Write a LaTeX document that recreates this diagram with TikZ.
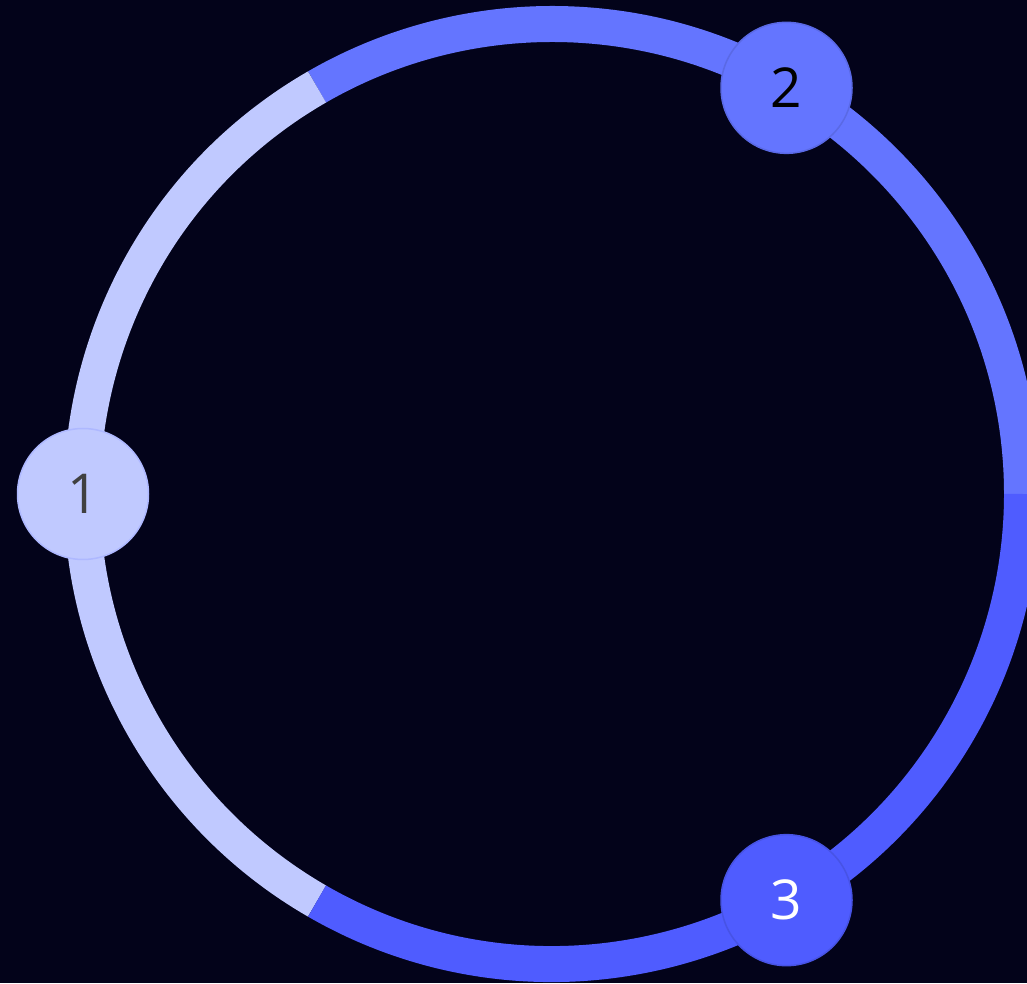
\documentclass[tikz,border=0pt]{standalone}
\usepackage{fontspec}
\setmainfont{Open Sans}
\usetikzlibrary{positioning}
\definecolor{bgnavy}{HTML}{03031A}
\definecolor{ringlight}{HTML}{C0C9FF}
\definecolor{ringmid}{HTML}{6475FF}
\definecolor{ringdark}{HTML}{4F5CFF}

\begin{document}
\begin{tikzpicture}[
  x=1pt, y=1pt,
  seg/.style={line width=36pt},
  stepdot/.style={circle, minimum size=131pt, inner sep=0pt, line width=1.5pt,
    font=\fontsize{55}{55}\selectfont},
]
  \useasboundingbox (0,0) rectangle (1027,983);
  \clip (0,0) rectangle (1027,983);
  \fill[bgnavy] (0,0) rectangle (1027,983);
  \coordinate (c) at (552,489);
  % ring segments
  \draw[seg, ringmid] ([shift={(0:470)}]c) arc[start angle=0, end angle=120, radius=470];
  \draw[seg, ringlight] ([shift={(120:470)}]c) arc[start angle=120, end angle=240, radius=470];
  \draw[seg, ringdark] ([shift={(240:470)}]c) arc[start angle=240, end angle=360, radius=470];
  % steps
  \node[stepdot, fill=ringlight, draw=ringlight!80!ringmid, text=black!75] (s1) at ([shift={(180:469)}]c) {1};
  \node[stepdot, fill=ringmid, draw=ringmid!90!black, text=black] (s2) at ([shift={(60:469)}]c) {2};
  \node[stepdot, fill=ringdark, draw=ringdark!90!black, text=white] (s3) at ([shift={(-60:469)}]c) {3};
\end{tikzpicture}
\end{document}
